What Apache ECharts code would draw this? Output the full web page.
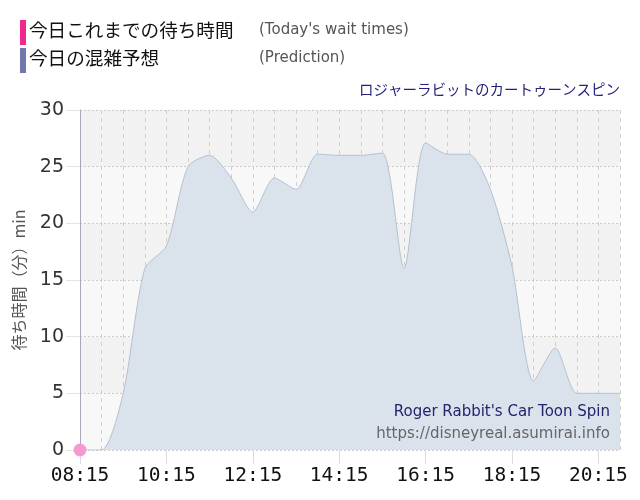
<!DOCTYPE html>
<html><head><meta charset="utf-8">
<script src="https://cdn.jsdelivr.net/npm/echarts@6/dist/echarts.min.js"></script>
<style>html,body{margin:0;padding:0;background:#fff}#c{width:640px;height:500px}</style>
</head><body><div id="c"></div>
<script>
var times = ["08:15","08:45","09:15","09:45","10:15","10:45","11:15","11:45","12:15","12:45","13:15","13:45","14:15","14:45","15:15","15:45","16:15","16:45","17:15","17:45","18:15","18:45","19:15","19:45","20:15","20:45"];
var prediction = [0,0,5,16,18,25,26,24,21,24,23,26.1,26,26,26.2,16,27.1,26.1,26.1,23,16.2,6.1,9,5,5,5];
var today = [0];
var yTicks = [0,5,10,15,20,25,30];

var todayData = times.map(function(t,i){ return i < today.length ? today[i] : null; });

var chart = echarts.init(document.getElementById('c'));
chart.setOption({
  animation:false,
  backgroundColor:'#ffffff',
  grid:{left:80,right:20,top:110,bottom:50},
  xAxis:{
    type:'category', data:times, boundaryGap:false,
    axisLine:{show:false},
    axisTick:{show:true, interval:3, length:14, lineStyle:{color:'#dcdcdc'}},
    axisLabel:{interval:3, color:'#111', fontSize:19.5, fontFamily:'DejaVu Sans Mono', margin:16},
    splitLine:{show:true, interval:0, lineStyle:{color:'#cfcfcf', type:[4,4], width:1}}
  },
  yAxis:{
    type:'value', min:yTicks[0], max:yTicks[yTicks.length-1], interval:5,
    name:'待ち時間（分）min', nameLocation:'middle', nameGap:53, nameRotate:90,
    nameTextStyle:{color:'#555', fontSize:16, fontFamily:'Noto Sans CJK JP'},
    axisLine:{show:true, lineStyle:{color:'#a8a8b8'}},
    axisTick:{show:true, length:14, lineStyle:{color:'#e4e4e4'}},
    axisLabel:{color:'#333', fontSize:19, fontFamily:'DejaVu Sans', margin:16},
    splitLine:{show:true, lineStyle:{color:'#cccccc', type:[2,2]}},
    splitArea:{show:true, areaStyle:{color:['#f8f8f8','#f2f2f2']}}
  },
  graphic:[
    {type:'rect', left:20, top:20, shape:{width:6,height:25}, style:{fill:'#f0288c'}},
    {type:'text', left:29, top:21, style:{text:'今日これまでの待ち時間', fill:'#111', font:'18.6px "Noto Sans CJK JP"'}},
    {type:'text', left:259, top:23, style:{text:"(Today's wait times)", fill:'#555', font:'15px "DejaVu Sans"'}},
    {type:'rect', left:20, top:48, shape:{width:6,height:25}, style:{fill:'#7078ac'}},
    {type:'text', left:29, top:49, style:{text:'今日の混雑予想', fill:'#111', font:'18.6px "Noto Sans CJK JP"'}},
    {type:'text', left:259, top:51, style:{text:'(Prediction)', fill:'#555', font:'15px "DejaVu Sans"'}},
    {type:'text', right:20, top:82, style:{text:'ロジャーラビットのカートゥーンスピン', fill:'#23237a', font:'14.5px "Noto Sans CJK JP"'}},
    {type:'text', right:30, top:405, z:10, style:{text:"Roger Rabbit's Car Toon Spin", fill:'#23236e', font:'15px "DejaVu Sans"'}},
    {type:'text', right:30, top:427, z:10, style:{text:'https://disneyreal.asumirai.info', fill:'#666', font:'15px "DejaVu Sans"'}}
  ],
  series:[
    {name:'今日の混雑予想', type:'line', data:prediction, smooth:0.25, symbol:'none',
     lineStyle:{color:'#b4c0cc', width:1}, areaStyle:{color:'#dae3ec', opacity:1}, z:2},
    {name:'今日これまでの待ち時間', type:'line', data:todayData, symbol:'circle', symbolSize:13,
     itemStyle:{color:'#f59ad0'}, lineStyle:{color:'#f0288c', width:2}, z:5}
  ]
});
</script></body></html>
